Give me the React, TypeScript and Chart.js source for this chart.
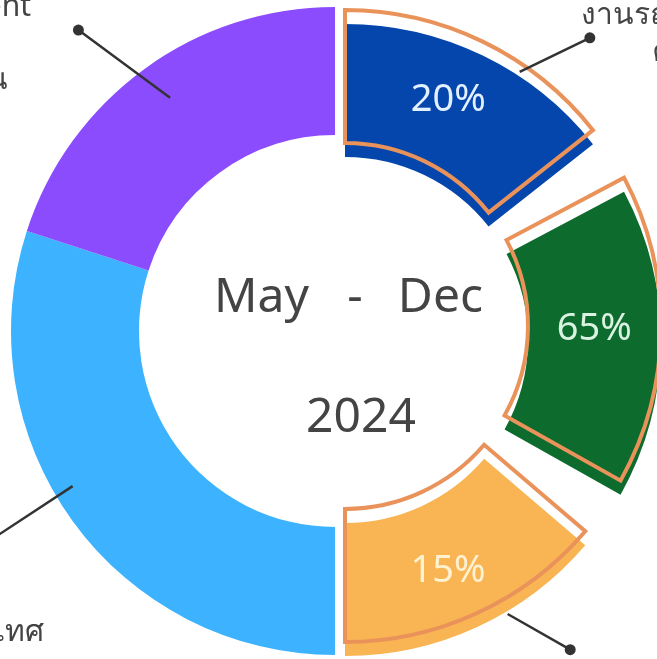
import React, { useEffect, useRef } from 'react';
import { Chart, registerables } from 'chart.js';

Chart.register(...registerables);

// Outer ring on the left half (angular size in degrees of a full turn)
const ringLabels = ['ต่างประเทศ', 'Entertainment'];
const ringValues = [108, 72];
const ringColors = ['#3DB3FF', '#8A4CFC'];
const ringHiddenHalf = 180;

// Highlighted slices on the right half (angular size in degrees)
const focusLabels = ['งานรถยนต์', 'ช้อปปิ้ง', 'ในประเทศ'];
const focusValues = [51.7, 57.3, 49.5];
const focusGaps = [10.3, 11.2];
const focusPercents = ['20%', '65%', '15%'];
const focusColors = ['#0546AD', '#0D6B2D', '#F9B453'];
const focusTextColors = ['#E2F0FF', '#D9F3E0', '#FFF2D2'];
const outlineColor = '#E9935B';
const focusHiddenHalf = 180;

// Centre caption
const periodWords = ['May', '-', 'Dec'];
const periodYear = '2024';

// Outside category captions (cropped in the picture)
const topLeftLines = ['Entertainment', 'และการท่องเที่ยว', 'ท่องเที่ยว & พักผ่อน'];
const topRightLines = ['งานรถยนต์', 'ค่าเดินทาง'];
const bottomLeftLines = ['ต่างประเทศ'];

const CLEAR = 'rgba(0,0,0,0)';
const TEXT = '#444444';
const FONT = '"Noto Sans", "DejaVu Sans", sans-serif';

function focusData() {
  return [focusValues[0], focusGaps[0], focusValues[1], focusGaps[1], focusValues[2], focusHiddenHalf];
}
function focusLabelList() {
  return [focusLabels[0], 'gap', focusLabels[1], 'gap', focusLabels[2], 'rest'];
}

function arcPoint(el: any, frac: number, radFrac: number) {
  const a = el.startAngle + (el.endAngle - el.startAngle) * frac;
  const r = el.innerRadius + (el.outerRadius - el.innerRadius) * radFrac;
  return { x: el.x + Math.cos(a) * r, y: el.y + Math.sin(a) * r };
}

function baseOptions(cutout: string, padding: any): any {
  return {
    responsive: false,
    maintainAspectRatio: false,
    animation: false,
    events: [],
    cutout,
    layout: { padding },
    plugins: { legend: { display: false }, tooltip: { enabled: false } },
  };
}

export default function App() {
  const ringRef = useRef<HTMLCanvasElement>(null);
  const fillRef = useRef<HTMLCanvasElement>(null);
  const lineRef = useRef<HTMLCanvasElement>(null);

  useEffect(() => {
    const ring = new Chart(ringRef.current as HTMLCanvasElement, {
      type: 'doughnut',
      data: {
        labels: ['rest', ...ringLabels],
        datasets: [{
          data: [ringHiddenHalf, ...ringValues],
          backgroundColor: [CLEAR, ...ringColors],
          borderWidth: 0,
        }],
      },
      options: baseOptions('60.5%', { left: 11, top: 7, right: 61, bottom: 65 }),
    });

    const fills = new Chart(fillRef.current as HTMLCanvasElement, {
      type: 'doughnut',
      data: {
        labels: focusLabelList(),
        datasets: [{
          data: focusData(),
          backgroundColor: [focusColors[0], CLEAR, focusColors[1], CLEAR, focusColors[2], CLEAR],
          borderWidth: 0,
        }],
      },
      options: baseOptions('57.9%', { left: 29, top: 24, right: 59, bottom: 64 }),
    });

    const overlay = {
      id: 'overlay',
      afterDraw(chart: any) {
        const ctx = chart.ctx as CanvasRenderingContext2D;
        const ringEls = ring.getDatasetMeta(0).data as any[];
        const fillEls = fills.getDatasetMeta(0).data as any[];

        // leader lines
        const leaders = [
          { el: ringEls[2], frac: 0.51, rad: 0.7, ang: 216.5, len: 114 },
          { el: ringEls[1], frac: 0.55, rad: 0.85, ang: 146.7, len: 112 },
          { el: fillEls[0], frac: 0.64, rad: 1.03, ang: -25.9, len: 78 },
          { el: fillEls[4], frac: 0.38, rad: 1.02, ang: 29.7, len: 72 },
        ];
        ctx.save();
        ctx.strokeStyle = '#333333';
        ctx.fillStyle = '#333333';
        ctx.lineWidth = 2.5;
        leaders.forEach((l) => {
          const p = arcPoint(l.el, l.frac, l.rad);
          const a = (l.ang * Math.PI) / 180;
          const q = { x: p.x + Math.cos(a) * l.len, y: p.y + Math.sin(a) * l.len };
          ctx.beginPath();
          ctx.moveTo(p.x, p.y);
          ctx.lineTo(q.x, q.y);
          ctx.stroke();
          ctx.beginPath();
          ctx.arc(q.x, q.y, 5.5, 0, Math.PI * 2);
          ctx.fill();
        });
        ctx.restore();

        // percentage labels
        const spots = [
          { idx: 0, frac: 0.45, rad: 0.59 },
          { idx: 2, frac: 0.445, rad: 0.5 },
          { idx: 4, frac: 0.515, rad: 0.53 },
        ];
        ctx.save();
        ctx.font = `38px ${FONT}`;
        ctx.textAlign = 'center';
        ctx.textBaseline = 'middle';
        spots.forEach((s, i) => {
          const p = arcPoint(fillEls[s.idx], s.frac, s.rad);
          ctx.fillStyle = focusTextColors[i];
          ctx.fillText(focusPercents[i], p.x, p.y);
        });
        ctx.restore();

        // centre caption
        ctx.save();
        ctx.fillStyle = TEXT;
        ctx.font = `48px ${FONT}`;
        ctx.textBaseline = 'alphabetic';
        ctx.textAlign = 'left';
        ctx.fillText(periodWords[0], 214, 312);
        ctx.textAlign = 'center';
        ctx.fillText(periodWords[1], 355, 312);
        ctx.textAlign = 'right';
        ctx.fillText(periodWords[2], 483, 312);
        ctx.textAlign = 'center';
        ctx.fillText(periodYear, 361, 432);
        ctx.restore();

        // outside captions
        ctx.save();
        ctx.fillStyle = TEXT;
        ctx.font = `30px ${FONT}`;
        ctx.textBaseline = 'alphabetic';
        ctx.textAlign = 'right';
        ctx.fillText(topLeftLines[0], 31, 16);
        ctx.fillText(topLeftLines[1], -6, 52);
        ctx.fillText(topLeftLines[2], 8, 89);
        ctx.fillText(bottomLeftLines[0], 44, 641);
        ctx.textAlign = 'left';
        ctx.fillText(topRightLines[0], 581, 24);
        ctx.fillText(topRightLines[1], 652, 61);
        ctx.restore();
      },
    };

    const outlines = new Chart(lineRef.current as HTMLCanvasElement, {
      type: 'doughnut',
      data: {
        labels: focusLabelList(),
        datasets: [{
          data: focusData(),
          backgroundColor: [CLEAR, CLEAR, CLEAR, CLEAR, CLEAR, CLEAR],
          borderColor: [outlineColor, CLEAR, outlineColor, CLEAR, outlineColor, CLEAR],
          borderWidth: [4, 0, 4, 0, 4, 0],
          borderJoinStyle: 'miter',
          borderAlign: 'center',
        } as any],
      },
      options: baseOptions('57.9%', { left: 27, top: 8, right: 57, bottom: 76 }),
      plugins: [overlay],
    });

    return () => {
      outlines.destroy();
      fills.destroy();
      ring.destroy();
    };
  }, []);

  const canvasStyle: React.CSSProperties = { position: 'absolute', left: 0, top: 0, width: 720, height: 720 };
  return (
    <div style={{ position: 'fixed', left: 0, top: 0, width: 657, height: 659, overflow: 'hidden', background: '#ffffff' }}>
      <canvas ref={ringRef} width={720} height={720} style={canvasStyle} />
      <canvas ref={fillRef} width={720} height={720} style={canvasStyle} />
      <canvas ref={lineRef} width={720} height={720} style={canvasStyle} />
    </div>
  );
}
